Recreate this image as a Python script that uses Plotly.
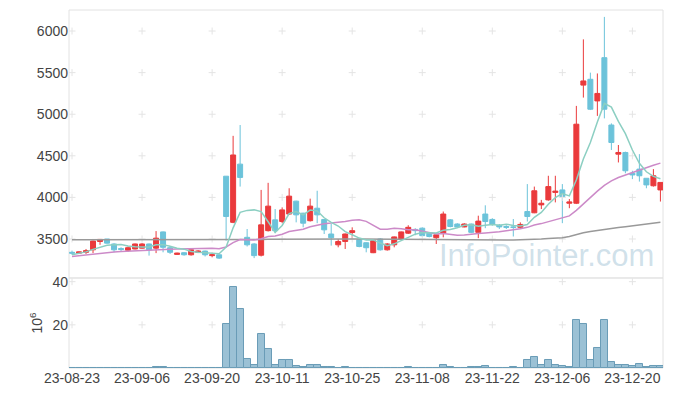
import plotly.graph_objects as go

dates = (
    ["2023-08-%02d" % d for d in [23, 24, 25, 28, 29, 30, 31]]
    + ["2023-09-%02d" % d for d in [1, 4, 5, 6, 7, 8, 11, 12, 13, 14, 15, 18, 19, 20, 21, 22, 25, 26, 27]]
    + ["2023-10-%02d" % d for d in [4, 5, 6, 10, 11, 12, 13, 16, 17, 18, 19, 20, 23, 24, 25, 26, 27, 30, 31]]
    + ["2023-11-%02d" % d for d in [1, 2, 3, 6, 7, 8, 9, 10, 13, 14, 15, 16, 17, 20, 21, 22, 23, 24, 27, 28, 29, 30]]
    + ["2023-12-%02d" % d for d in [1, 4, 5, 6, 7, 8, 11, 12, 13, 14, 15, 18, 19, 20, 21, 22, 26, 27]]
)

open_ = [3340, 3330, 3340, 3370, 3470, 3500, 3440, 3385, 3365, 3380,
         3390, 3440, 3390, 3585, 3395, 3315, 3335, 3310, 3340, 3355,
         3300, 3310, 4255, 3700, 4400, 3520, 3440, 3305, 3600, 3730,
         3710, 3800, 3955, 3810, 3720, 3870, 3735, 3560, 3430, 3470,
         3578, 3495, 3455, 3335, 3500, 3370, 3430, 3500, 3570, 3615,
         3630, 3570, 3515, 3570, 3730, 3680, 3645, 3680, 3580, 3800,
         3735, 3665, 3650, 3645, 3640, 3830, 3815, 3910, 3970, 4060,
         4090, 3930, 3930, 5350, 5420, 5160, 5680, 4870, 4520, 4540,
         4290, 4340, 4230, 4140, 4090]
high = [3360, 3350, 3380, 3480, 3500, 3500, 3450, 3400, 3410, 3445,
        3450, 3445, 3595, 3590, 3400, 3335, 3340, 3375, 3365, 3360,
        3335, 3315, 4255, 4740, 4870, 3620, 3450, 4090, 4175, 3860,
        3880, 4110, 3960, 3815, 3985, 4080, 3740, 3680, 3500, 3565,
        3640, 3500, 3460, 3490, 3510, 3450, 3530, 3590, 3665, 3630,
        3640, 3580, 3560, 3830, 3740, 3690, 3690, 3685, 3780, 3905,
        3750, 3680, 3665, 3740, 3700, 4160, 4130, 3970, 4260, 4260,
        4160, 3980, 5100, 5900, 5500, 5490, 6170, 4890, 4630, 4550,
        4320, 4520, 4230, 4340, 4180]
low = [3310, 3320, 3320, 3330, 3430, 3445, 3340, 3355, 3345, 3375,
       3385, 3300, 3330, 3340, 3320, 3310, 3300, 3300, 3330, 3290,
       3280, 3260, 3480, 3690, 4130, 3410, 3270, 3290, 3590, 3570,
       3690, 3790, 3700, 3640, 3710, 3690, 3560, 3420, 3400, 3380,
       3500, 3400, 3340, 3330, 3360, 3360, 3400, 3490, 3560, 3545,
       3530, 3520, 3440, 3520, 3640, 3640, 3640, 3570, 3510, 3630,
       3660, 3620, 3620, 3530, 3620, 3710, 3810, 3860, 3960, 3940,
       3690, 3870, 3920, 5200, 5050, 4980, 4950, 4570, 4420, 4290,
       4220, 4190, 4110, 4130, 3950]
close = [3330, 3345, 3360, 3475, 3495, 3450, 3370, 3375, 3395, 3440,
         3440, 3370, 3510, 3400, 3340, 3330, 3310, 3370, 3355, 3310,
         3310, 3270, 3770, 4510, 4240, 3430, 3300, 3670, 3895, 3600,
         3850, 4015, 3790, 3690, 3895, 3790, 3610, 3515, 3470, 3560,
         3600, 3410, 3395, 3480, 3370, 3440, 3525, 3585, 3640, 3600,
         3540, 3530, 3550, 3800, 3650, 3645, 3680, 3580, 3715, 3710,
         3680, 3645, 3640, 3640, 3675, 3770, 4080, 3930, 4130, 4075,
         4010, 3945, 4880, 5400, 5060, 5250, 5060, 4660, 4540, 4320,
         4270, 4260, 4150, 4260, 4180]
volume = [0.1, 0.1, 0.1, 0.2, 0.2, 0.1, 0.1, 0.1, 0.1, 0.2,
          0.1, 0.1, 0.5, 0.3, 0.1, 0.1, 0.1, 0.1, 0.1, 0.1,
          0.1, 0.1, 20.5, 37.5, 27.3, 4.2, 1.4, 15.8, 8.8, 1.4,
          3.7, 3.7, 0.9, 0.5, 1.4, 1.4, 0.5, 0.5, 0.2, 0.5,
          0.2, 0.1, 0.1, 0.2, 0.1, 0.1, 0.1, 0.2, 0.5, 0.2,
          0.1, 0.1, 0.2, 1.4, 0.5, 0.1, 0.1, 0.5, 0.5, 0.9,
          0.1, 0.1, 0.1, 0.5, 0.2, 3.7, 5.1, 1.4, 3.7, 1.4,
          0.9, 0.5, 22.2, 20.3, 3.7, 9.2, 22.2, 2.8, 1.4, 1.4,
          0.9, 1.8, 0.5, 0.9, 0.9]

ma5 = [3310, 3325, 3345, 3375, 3401, 3425, 3430, 3433, 3417, 3406,
       3404, 3404, 3431, 3432, 3412, 3390, 3378, 3350, 3341, 3335,
       3331, 3323, 3403, 3634, 3820, 3844, 3850, 3830, 3707, 3579,
       3663, 3806, 3830, 3789, 3848, 3836, 3755, 3700, 3656, 3589,
       3551, 3511, 3487, 3489, 3451, 3419, 3442, 3480, 3512, 3558,
       3578, 3579, 3572, 3604, 3614, 3635, 3665, 3671, 3654, 3666,
       3673, 3666, 3678, 3663, 3656, 3674, 3761, 3819, 3917, 3997,
       4045, 4018, 4208, 4462, 4659, 4907, 5130, 5086, 4914, 4766,
       4570, 4410, 4308, 4252, 4224]
ma20 = [3290, 3300, 3310, 3320, 3330, 3338, 3345, 3350, 3355, 3360,
        3365, 3368, 3372, 3376, 3378, 3380, 3382, 3385, 3387, 3389,
        3388, 3384, 3404, 3456, 3493, 3492, 3489, 3504, 3529, 3537,
        3557, 3589, 3603, 3618, 3646, 3669, 3684, 3691, 3697, 3709,
        3724, 3731, 3712, 3660, 3617, 3617, 3629, 3624, 3612, 3612,
        3596, 3572, 3560, 3565, 3553, 3546, 3549, 3553, 3565, 3572,
        3576, 3588, 3600, 3608, 3624, 3640, 3668, 3685, 3710, 3733,
        3757, 3778, 3844, 3924, 3995, 4075, 4144, 4198, 4239, 4270,
        4299, 4330, 4355, 4386, 4412]
ma120 = [3490, 3490, 3490, 3489, 3489, 3489, 3489, 3488, 3488, 3488,
         3488, 3487, 3487, 3487, 3486, 3486, 3486, 3485, 3485, 3485,
         3485, 3485, 3487, 3490, 3492, 3493, 3493, 3494, 3496, 3497,
         3498, 3500, 3501, 3501, 3502, 3502, 3502, 3501, 3500, 3500,
         3500, 3499, 3498, 3497, 3496, 3495, 3494, 3493, 3492, 3491,
         3490, 3489, 3488, 3488, 3487, 3487, 3486, 3486, 3486, 3486,
         3486, 3487, 3487, 3488, 3489, 3492, 3496, 3500, 3505, 3510,
         3516, 3530, 3555, 3575, 3590, 3604, 3617, 3628, 3638, 3648,
         3657, 3666, 3677, 3689, 3700]

x_tick_dates = ["2023-08-23", "2023-09-06", "2023-09-20", "2023-10-11", "2023-10-25",
                "2023-11-08", "2023-11-22", "2023-12-06", "2023-12-20"]
x_tick_labels = ["23-08-23", "23-09-06", "23-09-20", "23-10-11", "23-10-25",
                 "23-11-08", "23-11-22", "23-12-06", "23-12-20"]
price_ticks = [3500, 4000, 4500, 5000, 5500, 6000]
vol_ticks = [20, 40]

RED = "#ea3a3c"
BLUE = "#6cc3da"
FONT = dict(family="Liberation Sans", size=14, color="#444444")

fig = go.Figure()

# grid crosses at tick intersections
fig.add_trace(go.Scatter(
    x=[d for d in x_tick_dates for _ in price_ticks],
    y=[v for _ in x_tick_dates for v in price_ticks],
    mode="markers", yaxis="y", hoverinfo="skip", showlegend=False,
    marker=dict(symbol="cross-thin", size=5, line=dict(color="#e4e4e4", width=1))))
fig.add_trace(go.Scatter(
    x=[d for d in x_tick_dates for _ in vol_ticks],
    y=[v for _ in x_tick_dates for v in vol_ticks],
    mode="markers", yaxis="y2", hoverinfo="skip", showlegend=False,
    marker=dict(symbol="cross-thin", size=5, line=dict(color="#e4e4e4", width=1))))

fig.add_trace(go.Candlestick(
    x=dates, open=open_, high=high, low=low, close=close,
    increasing=dict(line=dict(color=RED, width=1), fillcolor=RED),
    decreasing=dict(line=dict(color=BLUE, width=1), fillcolor=BLUE),
    whiskerwidth=0, yaxis="y", showlegend=False))

fig.add_trace(go.Scatter(x=dates, y=ma120, mode="lines", yaxis="y", showlegend=False,
                         line=dict(color="#999999", width=1.5)))
fig.add_trace(go.Scatter(x=dates, y=ma20, mode="lines", yaxis="y", showlegend=False,
                         line=dict(color="#cc8ac8", width=1.5)))
fig.add_trace(go.Scatter(x=dates, y=ma5, mode="lines", yaxis="y", showlegend=False,
                         line=dict(color="#8ccfc2", width=1.5)))

fig.add_trace(go.Bar(x=dates, y=volume, yaxis="y2", showlegend=False,
                     marker=dict(color="rgba(130,178,202,0.8)",
                                 line=dict(color="#6a9cb7", width=1))))

SPLIT = 0.2514
# the page body adds an 8px offset, so the figure is 8px smaller on each axis
fig.update_layout(
    width=665, height=388,
    margin=dict(l=61, r=10, t=2, b=28, autoexpand=False),
    paper_bgcolor="white", plot_bgcolor="white",
    font=FONT, bargap=0, boxgap=0.29, boxgroupgap=0,
    xaxis=dict(type="category", categoryorder="array", categoryarray=dates,
               range=[-0.43, 84.37], anchor="y2", automargin=False,
               tickmode="array", tickvals=x_tick_dates, ticktext=x_tick_labels, tickangle=0,
               showgrid=False, zeroline=False, showline=False, ticks="",
               tickfont=FONT, rangeslider=dict(visible=False)),
    yaxis=dict(domain=[SPLIT, 1], range=[3031, 6253], tickmode="array", tickvals=price_ticks,
               automargin=False, showgrid=False, zeroline=False, showline=False, ticks="",
               tickfont=FONT),
    yaxis2=dict(domain=[0, SPLIT], range=[0, 41.7], tickmode="array", tickvals=vol_ticks,
                automargin=False, showgrid=False, zeroline=False, showline=False, ticks="",
                tickfont=FONT, title=dict(text="10<sup>6</sup>", font=FONT, standoff=6)),
    shapes=[
        dict(type="rect", xref="paper", yref="paper", x0=0, x1=1, y0=SPLIT, y1=1,
             line=dict(color="#e2e2e2", width=1), layer="below"),
        dict(type="rect", xref="paper", yref="paper", x0=0, x1=1, y0=0, y1=SPLIT,
             line=dict(color="#e2e2e2", width=1), layer="below"),
    ],
    annotations=[dict(text="InfoPointer.com", xref="paper", yref="paper",
                      x=0.804, y=0.313, xanchor="center", yanchor="middle", showarrow=False,
                      font=dict(family="Liberation Sans", size=31, color="rgba(150,188,208,0.45)"))],
)

fig.write_html("out.html")
